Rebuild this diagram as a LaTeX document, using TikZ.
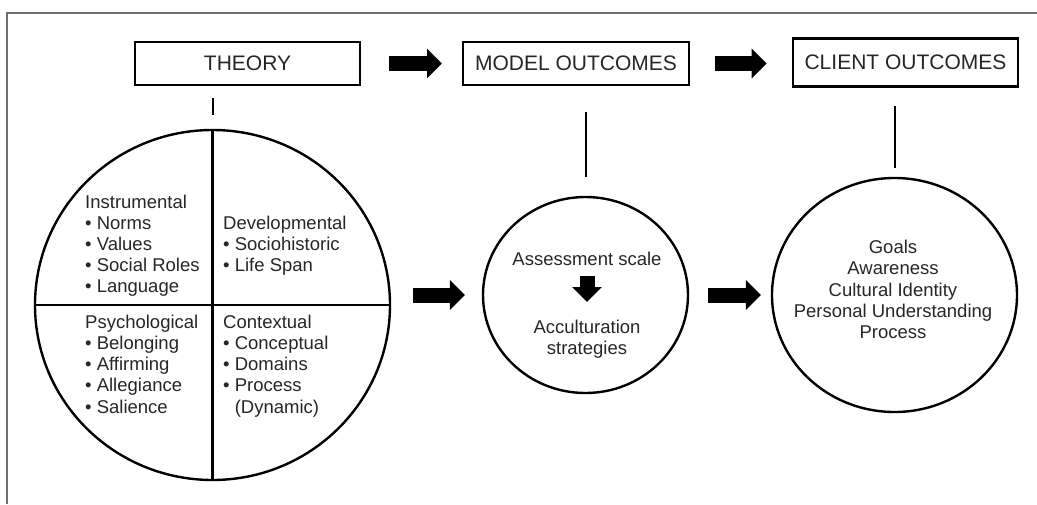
\documentclass[tikz,border=0pt]{standalone}
\usepackage{fontspec}
\setmainfont{Liberation Sans}
\usetikzlibrary{shapes.geometric,arrows.meta,calc}
\definecolor{txtgray}{HTML}{262626}
\definecolor{framegray}{HTML}{6E6E6E}
\begin{document}
\begin{tikzpicture}[x=1pt, y=-1pt, font=\fontsize{18.5}{21.2}\selectfont, text=txtgray, box/.style={draw, line width=2pt, minimum width=225pt, minimum height=43pt, inner sep=0pt, font=\fontsize{21}{24}\selectfont}, ring/.style={draw, ellipse, line width=2.4pt, inner sep=0pt}, bigarrow/.style={line width=15pt, -{Triangle[length=15pt, width=29pt]}}, quad/.style={align=left, anchor=north west, inner sep=0pt}, txt/.style={align=center, anchor=north, inner sep=0pt}]
	\useasboundingbox (0,0) rectangle (1037,504);
	\draw[framegray, line width=1.2pt] (7,504) -- (7,13) -- (1037,13);
	\node[box] (theory) at (247.5,63.5) {THEORY};
	\node[box, minimum width=226pt] (model) at (576,63.5) {MODEL OUTCOMES};
	\node[box, line width=2.6pt, minimum height=48pt] (client) at (905.5,62.5) {CLIENT OUTCOMES};
	\node[ring, minimum width=355pt, minimum height=350pt] (bigc) at (212.5,305) {};
	\node[ring, minimum width=205pt, minimum height=196pt] (mid) at (585.5,295) {};
	\node[ring, minimum width=245pt, minimum height=234pt] (right) at (894.5,295) {};
	\draw[line width=2.4pt] (bigc.north) -- (bigc.south);
	\draw[line width=2.4pt] (bigc.west) -- (bigc.east);
	\node[quad] (instr) at (85,194.5) {Instrumental\\\textbullet\ Norms\\\textbullet\ Values\\\textbullet\ Social Roles\\\textbullet\ Language};
	\node[quad] (devel) at (223,215.7) {Developmental\\\textbullet\ Sociohistoric\\\textbullet\ Life Span};
	\node[quad] (psych) at (85,314.7) {Psychological\\\textbullet\ Belonging\\\textbullet\ Affirming\\\textbullet\ Allegiance\\\textbullet\ Salience};
	\node[quad] (context) at (223,314.7) {Contextual\\\textbullet\ Conceptual\\\textbullet\ Domains\\\textbullet\ Process\\\phantom{\textbullet\ }(Dynamic)};
	\node[txt] (assess) at (587,252) {Assessment scale};
	\node[txt] (accul) at (587,320) {Acculturation\\strategies};
	\node[txt] (goals) at (893,240) {Goals\\Awareness\\Cultural Identity\\Personal Understanding\\Process};
	\draw[bigarrow] ([yshift=-10pt]assess.south) -- ([yshift=18pt]accul.north);
	\draw[bigarrow] ($(theory.east)+(28,0)$) -- ($(model.west)+(-20,0)$);
	\draw[bigarrow] ($(model.east)+(25,0)$) -- ($(client.west |- model.east)+(-25,0)$);
	\draw[bigarrow] ($(bigc.east |- mid.west)+(22,0)$) -- ($(mid.west)+(-17,0)$);
	\draw[bigarrow] ($(mid.east)+(19,0)$) -- ($(right.west)+(-10,0)$);
	\draw[line width=2pt] ($(theory.south -| bigc.north)+(0,12)$) -- ($(bigc.north)+(0,-14)$);
	\draw[line width=2pt] ($(model.south -| mid.north)+(0,26)$) -- ($(mid.north)+(0,-19)$);
	\draw[line width=2pt] ($(client.south -| right.north)+(0,18)$) -- ($(right.north)+(0,-9)$);
\end{tikzpicture}
\end{document}
